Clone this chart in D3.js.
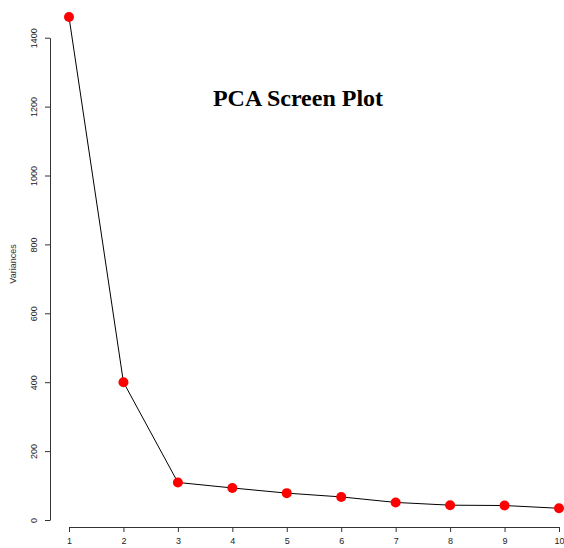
<!DOCTYPE html>
<html>
<head>
<meta charset="utf-8">
<script src="https://cdn.jsdelivr.net/npm/d3@7"></script>
<style>
  body { margin: 0; background: #fff; }
  svg { display: block; }
</style>
</head>
<body>
<div id="chart"></div>
<script>
// principal components and their variances
const components = [1, 2, 3, 4, 5, 6, 7, 8, 9, 10];
const variances = [1460, 400, 109, 93, 78, 67, 51, 43, 42, 34];
const yTicks = [0, 200, 400, 600, 800, 1000, 1200, 1400];

const width = 564, height = 548;

const svg = d3.select('#chart').append('svg')
  .attr('width', width)
  .attr('height', height);

const x = d3.scaleLinear().domain([1, 10]).range([69, 559]);
const y = d3.scaleLinear().domain([0, 1400]).range([520, 37.7]);

// y axis
const yAxis = svg.append('g')
  .attr('transform', 'translate(50,0)')
  .call(d3.axisLeft(y).tickValues(yTicks).tickSize(5).tickSizeOuter(0).tickFormat(d3.format('d')));
yAxis.select('.domain').attr('stroke', '#333');
yAxis.selectAll('.tick line').attr('stroke', '#333');
yAxis.selectAll('.tick text')
  .attr('transform', 'rotate(-90)')
  .attr('x', 0)
  .attr('y', -13)
  .attr('dy', 0)
  .attr('text-anchor', 'middle')
  .style('font', '9px "Liberation Sans", Arial, sans-serif')
  .attr('fill', '#222');

// x axis
const xAxis = svg.append('g')
  .attr('transform', 'translate(0,527)')
  .call(d3.axisBottom(x).tickValues(components).tickSize(5).tickSizeOuter(0).tickFormat(d3.format('d')));
xAxis.select('.domain').attr('stroke', '#333');
xAxis.selectAll('.tick line').attr('stroke', '#333');
xAxis.selectAll('.tick text')
  .attr('y', 11)
  .attr('dy', '0.71em')
  .style('font', '9px "Liberation Sans", Arial, sans-serif')
  .attr('fill', '#222');

// axis title
svg.append('text')
  .attr('transform', 'translate(16,264) rotate(-90)')
  .attr('text-anchor', 'middle')
  .style('font', '9px "Liberation Sans", Arial, sans-serif')
  .attr('fill', '#333')
  .text('Variances');

// line
const line = d3.line()
  .x((d, i) => x(components[i]))
  .y(d => y(d));

svg.append('path')
  .datum(variances)
  .attr('fill', 'none')
  .attr('stroke', '#000')
  .attr('stroke-width', 1)
  .attr('d', line);

// points
svg.append('g')
  .selectAll('circle')
  .data(variances)
  .join('circle')
  .attr('cx', (d, i) => x(components[i]))
  .attr('cy', d => y(d))
  .attr('r', 5)
  .attr('fill', '#ff0000');

// title
svg.append('text')
  .attr('x', 298)
  .attr('y', 106)
  .attr('text-anchor', 'middle')
  .style('font', 'bold 24px "Liberation Serif", "Times New Roman", serif')
  .attr('fill', '#000')
  .text('PCA Screen Plot');
</script>
</body>
</html>
